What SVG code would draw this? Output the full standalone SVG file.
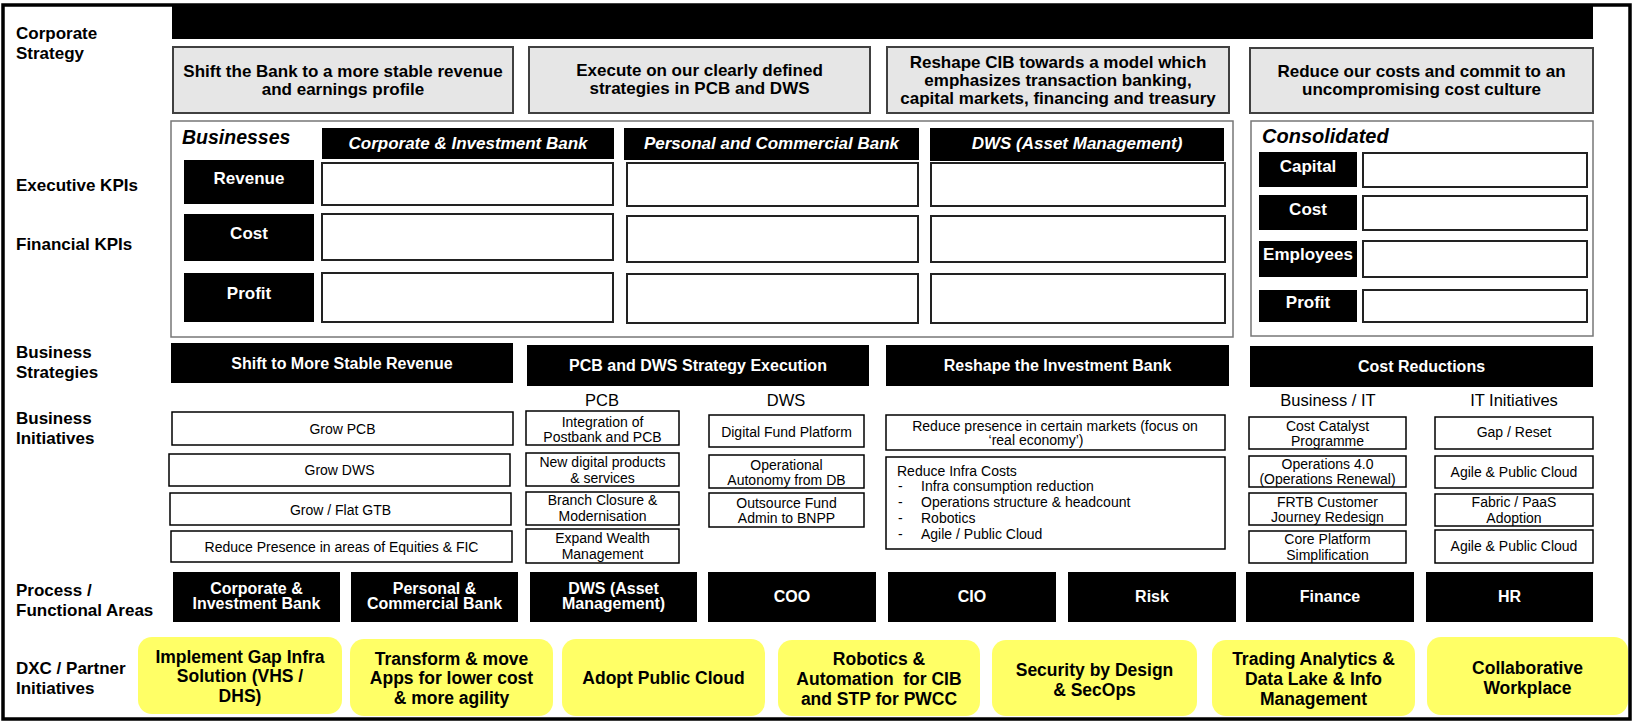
<svg xmlns="http://www.w3.org/2000/svg" width="1634" height="724" viewBox="0 0 1634 724">
<style>
text{font-family:"Liberation Sans",Arial,sans-serif;fill:#000}
.lbl{font-weight:bold;font-size:17px}
.grey{fill:#E6E6E6;stroke:#404040;stroke-width:2}
.gt{font-weight:bold;font-size:17px;text-anchor:middle}
.blk{fill:#000}
.hd{fill:#fff;font-weight:bold;font-style:italic;font-size:17px;text-anchor:middle}
.kl{fill:#fff;font-weight:bold;font-size:17px;text-anchor:middle}
.wbox{fill:#fff;stroke:#222;stroke-width:2}
.frame{fill:#fff;stroke:#777;stroke-width:1.5}
.ibox{fill:#fff;stroke:#000;stroke-width:1.5}
.it{font-size:14px;text-anchor:middle}
.sub{font-size:16.5px;text-anchor:middle}
.bs{fill:#fff;font-weight:bold;font-size:16px;text-anchor:middle}
.pt{fill:#fff;font-weight:bold;font-size:16px;text-anchor:middle}
.ybox{fill:#FFFF66}
.yt{font-weight:bold;font-size:17.5px;text-anchor:middle}
</style>
<rect x="0" y="0" width="1634" height="724" fill="#fff"/>
<rect x="3" y="5" width="1627" height="714" fill="none" stroke="#000" stroke-width="3.5"/>

<g id="row-labels">
<text class="lbl" x="16" y="39">Corporate</text>
<text class="lbl" x="16" y="59">Strategy</text>
<text class="lbl" x="16" y="191">Executive KPIs</text>
<text class="lbl" x="16" y="250">Financial KPIs</text>
<text class="lbl" x="16" y="358">Business</text>
<text class="lbl" x="16" y="378">Strategies</text>
<text class="lbl" x="16" y="424">Business</text>
<text class="lbl" x="16" y="444">Initiatives</text>
<text class="lbl" x="16" y="596">Process /</text>
<text class="lbl" x="16" y="616">Functional Areas</text>
<text class="lbl" x="16" y="674">DXC / Partner</text>
<text class="lbl" x="16" y="694">Initiatives</text>
</g>

<g id="top-bar"><rect class="blk" x="172" y="6" width="1421" height="33"/></g>

<g id="strategy-1"><rect class="grey" x="173" y="47" width="340" height="66"/>
<text class="gt" x="343" y="77">Shift the Bank to a more stable revenue</text>
<text class="gt" x="343" y="95">and earnings profile</text></g>
<g id="strategy-2"><rect class="grey" x="529" y="47" width="341" height="66"/>
<text class="gt" x="699.5" y="76">Execute on our clearly defined</text>
<text class="gt" x="699.5" y="94">strategies in PCB and DWS</text></g>
<g id="strategy-3"><rect class="grey" x="887" y="47" width="342" height="66"/>
<text class="gt" x="1058" y="68">Reshape CIB towards a model which</text>
<text class="gt" x="1058" y="86">emphasizes transaction banking,</text>
<text class="gt" x="1058" y="104">capital markets, financing and treasury</text></g>
<g id="strategy-4"><rect class="grey" x="1250" y="48" width="343" height="65"/>
<text class="gt" x="1421.5" y="77">Reduce our costs and commit to an</text>
<text class="gt" x="1421.5" y="95">uncompromising cost culture</text></g>

<g id="businesses">
<rect class="frame" x="171" y="121" width="1062" height="216"/>
<text x="182" y="144" font-weight="bold" font-style="italic" font-size="19.5">Businesses</text>
</g>
<g id="hdr-cib"><rect class="blk" x="322" y="128" width="292" height="31"/><text class="hd" x="468" y="149">Corporate &amp; Investment Bank</text></g>
<g id="hdr-pcb"><rect class="blk" x="624" y="128" width="295" height="32"/><text class="hd" x="771.5" y="149">Personal and Commercial Bank</text></g>
<g id="hdr-dws"><rect class="blk" x="930" y="128" width="294" height="33"/><text class="hd" x="1077" y="149">DWS (Asset Management)</text></g>

<g id="kpi-revenue"><rect class="blk" x="184" y="160" width="130" height="44"/><text class="kl" x="249" y="184">Revenue</text></g>
<g id="kpi-cost"><rect class="blk" x="184" y="214" width="130" height="47"/><text class="kl" x="249" y="239">Cost</text></g>
<g id="kpi-profit"><rect class="blk" x="184" y="273" width="130" height="49"/><text class="kl" x="249" y="299">Profit</text></g>

<g id="cib-values">
<rect class="wbox" x="322" y="163" width="291" height="42"/>
<rect class="wbox" x="322" y="214" width="291" height="46"/>
<rect class="wbox" x="322" y="273" width="291" height="49"/>
</g>
<g id="pcb-values">
<rect class="wbox" x="627" y="163" width="291" height="43"/>
<rect class="wbox" x="627" y="216" width="291" height="46"/>
<rect class="wbox" x="627" y="274" width="291" height="49"/>
</g>
<g id="dws-values">
<rect class="wbox" x="931" y="163" width="294" height="43"/>
<rect class="wbox" x="931" y="216" width="294" height="46"/>
<rect class="wbox" x="931" y="274" width="294" height="49"/>
</g>

<g id="consolidated">
<rect class="frame" x="1251" y="121" width="342" height="215"/>
<text x="1262" y="143" font-weight="bold" font-style="italic" font-size="20">Consolidated</text>
<rect class="blk" x="1259" y="152" width="98" height="35"/><text class="kl" x="1308" y="172">Capital</text>
<rect class="wbox" x="1363" y="153" width="224" height="34"/>
<rect class="blk" x="1259" y="195" width="98" height="35"/><text class="kl" x="1308" y="215">Cost</text>
<rect class="wbox" x="1363" y="196" width="224" height="34"/>
<rect class="blk" x="1259" y="241" width="98" height="36"/><text class="kl" x="1308" y="260" font-size="14">Employees</text>
<rect class="wbox" x="1363" y="241" width="224" height="36"/>
<rect class="blk" x="1259" y="290" width="98" height="32"/><text class="kl" x="1308" y="308">Profit</text>
<rect class="wbox" x="1363" y="290" width="224" height="32"/>
</g>

<g id="bs-1"><rect class="blk" x="171" y="343" width="342" height="40"/><text class="bs" x="342" y="369">Shift to More Stable Revenue</text></g>
<g id="bs-2"><rect class="blk" x="527" y="345" width="342" height="41"/><text class="bs" x="698" y="371">PCB and DWS Strategy Execution</text></g>
<g id="bs-3"><rect class="blk" x="886" y="345" width="343" height="41"/><text class="bs" x="1057.5" y="371">Reshape the Investment Bank</text></g>
<g id="bs-4"><rect class="blk" x="1250" y="346" width="343" height="41"/><text class="bs" x="1421.5" y="372">Cost Reductions</text></g>

<g id="init-revenue">
<rect class="ibox" x="172" y="412" width="341" height="33"/><text class="it" x="342.5" y="434">Grow PCB</text>
<rect class="ibox" x="169" y="454" width="341" height="32"/><text class="it" x="339.5" y="475">Grow DWS</text>
<rect class="ibox" x="170" y="493" width="341" height="32"/><text class="it" x="340.5" y="515">Grow / Flat GTB</text>
<rect class="ibox" x="171" y="531" width="341" height="31"/><text class="it" x="341.5" y="552">Reduce Presence in areas of Equities &amp; FIC</text>
</g>

<g id="init-pcb">
<text class="sub" x="602" y="406">PCB</text>
<rect class="ibox" x="526" y="411" width="153" height="34"/><text class="it" x="602.5" y="427">Integration of</text><text class="it" x="602.5" y="442">Postbank and PCB</text>
<rect class="ibox" x="526" y="453" width="153" height="33"/><text class="it" x="602.5" y="467">New digital products</text><text class="it" x="602.5" y="483">&amp; services</text>
<rect class="ibox" x="526" y="492" width="153" height="33"/><text class="it" x="602.5" y="505">Branch Closure &amp;</text><text class="it" x="602.5" y="521">Modernisation</text>
<rect class="ibox" x="526" y="529" width="153" height="34"/><text class="it" x="602.5" y="543">Expand Wealth</text><text class="it" x="602.5" y="559">Management</text>
</g>

<g id="init-dws">
<text class="sub" x="786" y="406">DWS</text>
<rect class="ibox" x="709" y="415" width="155" height="32"/><text class="it" x="786.5" y="437">Digital Fund Platform</text>
<rect class="ibox" x="709" y="455" width="155" height="33"/><text class="it" x="786.5" y="470">Operational</text><text class="it" x="786.5" y="485">Autonomy  from DB</text>
<rect class="ibox" x="709" y="493" width="155" height="34"/><text class="it" x="786.5" y="508">Outsource Fund</text><text class="it" x="786.5" y="523">Admin to BNPP</text>
</g>

<g id="init-ib">
<rect class="ibox" x="886" y="415" width="339" height="35"/>
<text class="it" x="1055" y="431">Reduce presence in certain markets (focus on</text>
<text class="it" x="1036" y="445">‘real economy’)</text>
<rect class="ibox" x="886" y="457" width="339" height="92"/>
<text x="897" y="476" font-size="14">Reduce Infra Costs</text>
<text x="898" y="491" font-size="14">-</text><text x="921" y="491" font-size="14">Infra consumption  reduction</text>
<text x="898" y="507" font-size="14">-</text><text x="921" y="507" font-size="14">Operations structure &amp; headcount</text>
<text x="898" y="523" font-size="14">-</text><text x="921" y="523" font-size="14">Robotics</text>
<text x="898" y="539" font-size="14">-</text><text x="921" y="539" font-size="14">Agile / Public Cloud</text>
</g>

<g id="init-business-it">
<text class="sub" x="1328" y="406">Business / IT</text>
<rect class="ibox" x="1249" y="417" width="157" height="32"/><text class="it" x="1327.5" y="431">Cost Catalyst</text><text class="it" x="1327.5" y="446">Programme</text>
<rect class="ibox" x="1249" y="456" width="157" height="31"/><text class="it" x="1327.5" y="469" font-size="12.5">Operations 4.0</text><text class="it" x="1327.5" y="483.5" font-size="12.5">(Operations Renewal)</text>
<rect class="ibox" x="1249" y="493" width="157" height="32"/><text class="it" x="1327.5" y="507">FRTB Customer</text><text class="it" x="1327.5" y="522">Journey  Redesign</text>
<rect class="ibox" x="1249" y="531" width="157" height="32"/><text class="it" x="1327.5" y="544">Core Platform</text><text class="it" x="1327.5" y="560">Simplification</text>
</g>

<g id="init-it">
<text class="sub" x="1514" y="406">IT Initiatives</text>
<rect class="ibox" x="1435" y="417" width="158" height="32"/><text class="it" x="1514" y="437">Gap / Reset</text>
<rect class="ibox" x="1435" y="456" width="158" height="32"/><text class="it" x="1514" y="477">Agile &amp; Public Cloud</text>
<rect class="ibox" x="1435" y="494" width="158" height="32"/><text class="it" x="1514" y="507">Fabric / PaaS</text><text class="it" x="1514" y="523">Adoption</text>
<rect class="ibox" x="1435" y="530" width="158" height="33"/><text class="it" x="1514" y="551">Agile &amp; Public Cloud</text>
</g>

<g id="area-cib"><rect class="blk" x="173" y="572" width="167" height="50"/><text class="pt" x="256.5" y="594">Corporate &amp;</text><text class="pt" x="256.5" y="609">Investment Bank</text></g>
<g id="area-pcb"><rect class="blk" x="351" y="572" width="167" height="50"/><text class="pt" x="434.5" y="594">Personal &amp;</text><text class="pt" x="434.5" y="609">Commercial Bank</text></g>
<g id="area-dws"><rect class="blk" x="530" y="572" width="167" height="50"/><text class="pt" x="613.5" y="594">DWS (Asset</text><text class="pt" x="613.5" y="609">Management)</text></g>
<g id="area-coo"><rect class="blk" x="708" y="572" width="168" height="50"/><text class="pt" x="792" y="602">COO</text></g>
<g id="area-cio"><rect class="blk" x="888" y="572" width="168" height="50"/><text class="pt" x="972" y="602">CIO</text></g>
<g id="area-risk"><rect class="blk" x="1068" y="572" width="168" height="50"/><text class="pt" x="1152" y="602">Risk</text></g>
<g id="area-finance"><rect class="blk" x="1246" y="572" width="168" height="50"/><text class="pt" x="1330" y="602">Finance</text></g>
<g id="area-hr"><rect class="blk" x="1426" y="572" width="167" height="50"/><text class="pt" x="1509.5" y="602">HR</text></g>

<g id="dxc-1"><rect class="ybox" x="138" y="637" width="204" height="77" rx="14"/><text class="yt" x="240" y="663">Implement Gap Infra</text><text class="yt" x="240" y="682">Solution (VHS /</text><text class="yt" x="240" y="702">DHS)</text></g>
<g id="dxc-2"><rect class="ybox" x="350" y="639" width="203" height="77" rx="14"/><text class="yt" x="451.5" y="665">Transform &amp; move</text><text class="yt" x="451.5" y="684">Apps for lower cost</text><text class="yt" x="451.5" y="704">&amp; more agility</text></g>
<g id="dxc-3"><rect class="ybox" x="562" y="639" width="203" height="77" rx="14"/><text class="yt" x="663.5" y="684">Adopt Public Cloud</text></g>
<g id="dxc-4"><rect class="ybox" x="778" y="640" width="202" height="76" rx="14"/><text class="yt" x="879" y="665">Robotics &amp;</text><text class="yt" x="879" y="685" style="white-space:pre">Automation  for CIB</text><text class="yt" x="879" y="705">and STP for PWCC</text></g>
<g id="dxc-5"><rect class="ybox" x="992" y="640" width="205" height="76" rx="14"/><text class="yt" x="1094.5" y="676">Security by Design</text><text class="yt" x="1094.5" y="696">&amp; SecOps</text></g>
<g id="dxc-6"><rect class="ybox" x="1212" y="640" width="203" height="76" rx="14"/><text class="yt" x="1313.5" y="665">Trading Analytics &amp;</text><text class="yt" x="1313.5" y="685">Data Lake &amp; Info</text><text class="yt" x="1313.5" y="705">Management</text></g>
<g id="dxc-7"><rect class="ybox" x="1427" y="637" width="201" height="78" rx="14"/><text class="yt" x="1527.5" y="674">Collaborative</text><text class="yt" x="1527.5" y="694">Workplace</text></g>

<g id="connectors"></g>
</svg>
